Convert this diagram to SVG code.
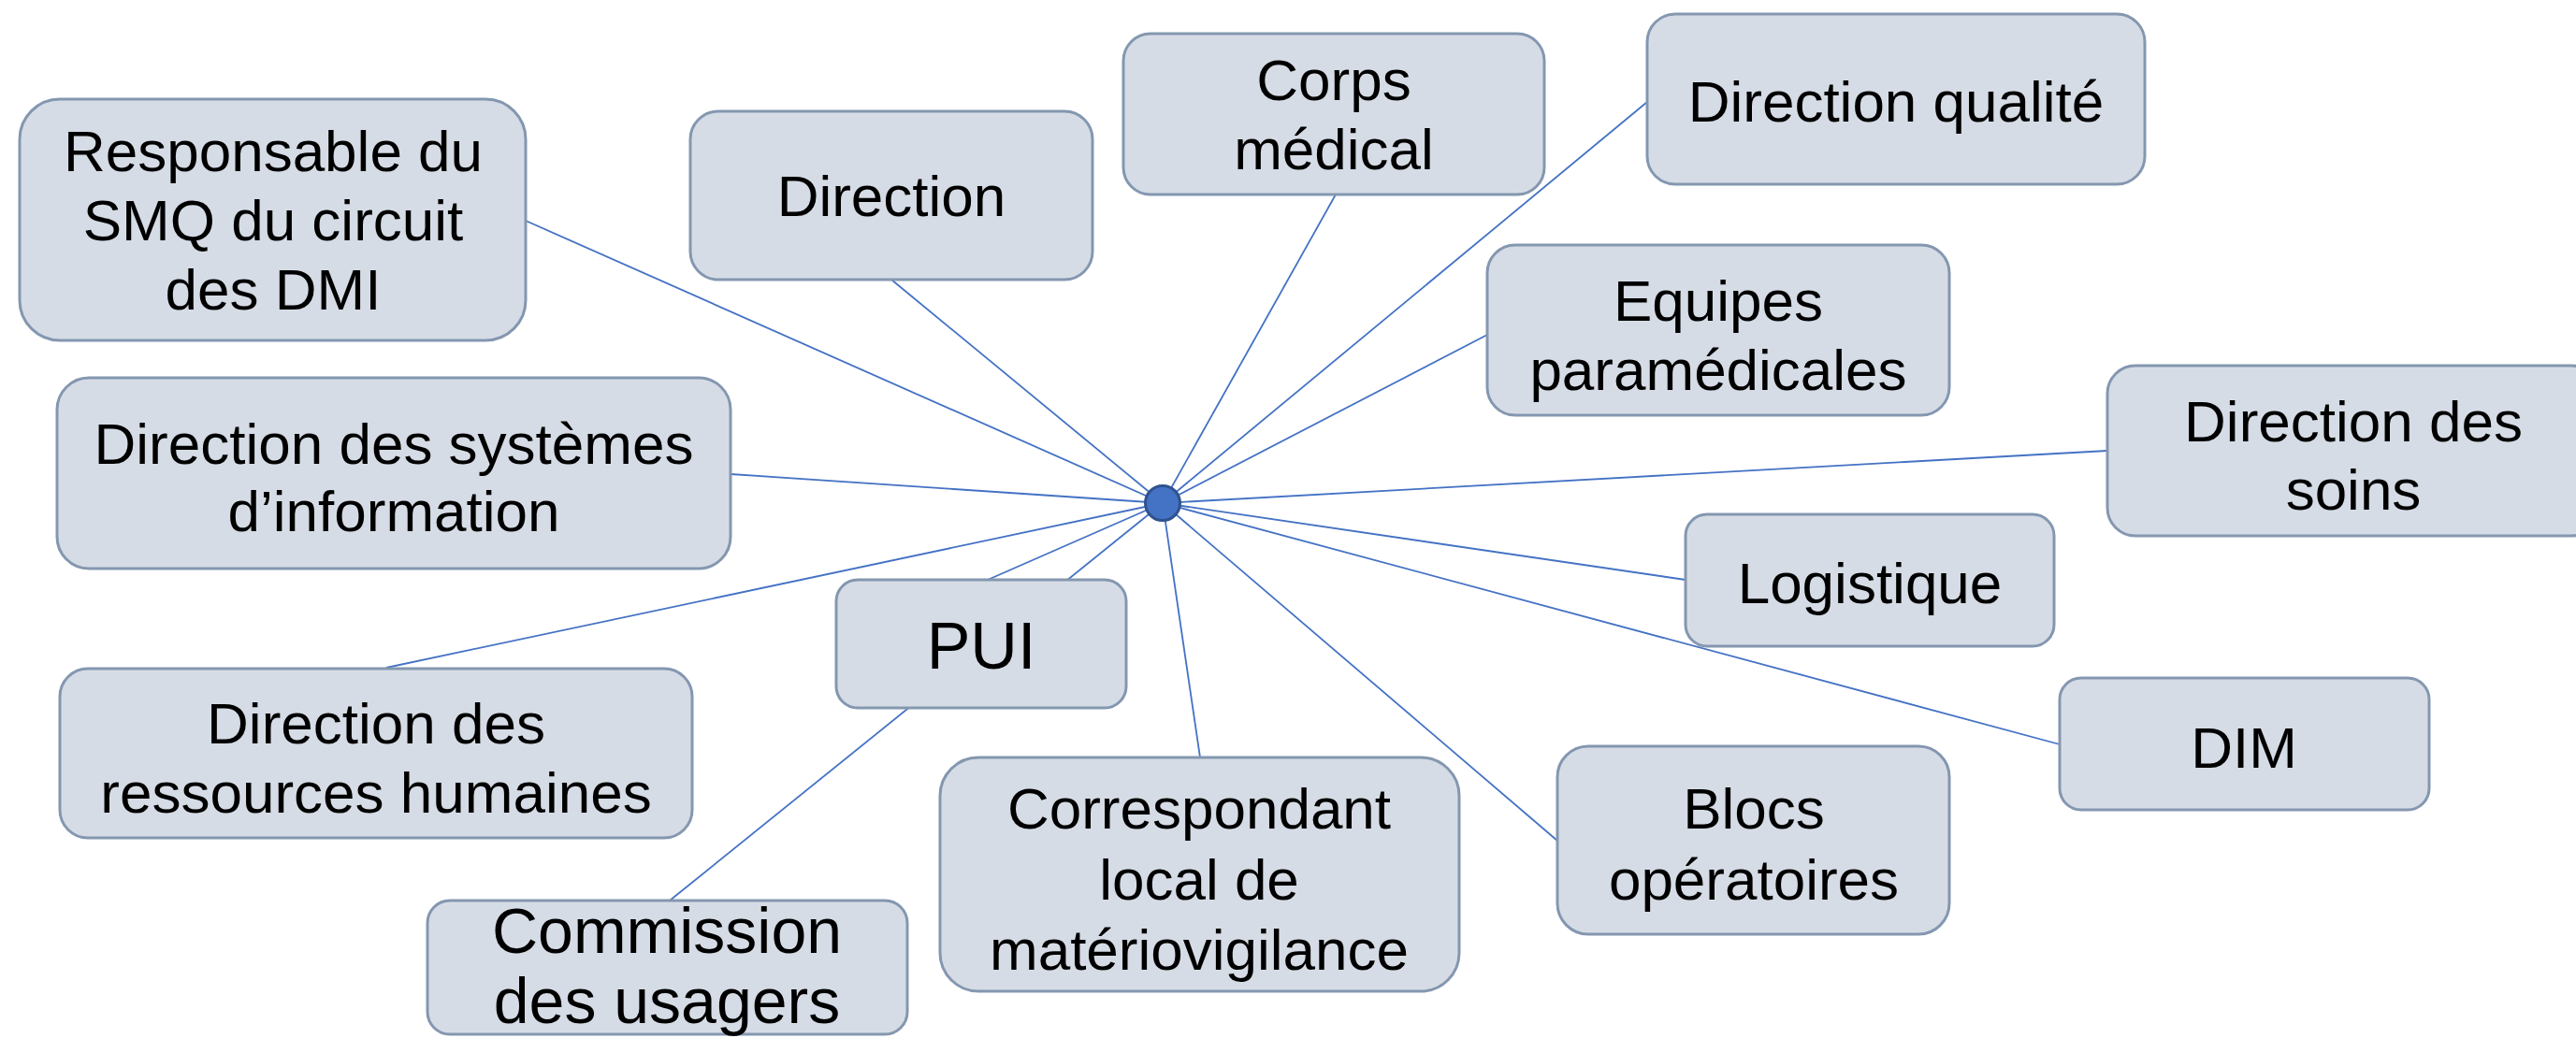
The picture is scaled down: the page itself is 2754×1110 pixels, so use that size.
<svg xmlns="http://www.w3.org/2000/svg" width="2754" height="1110" viewBox="0 0 2754 1110">
<style>
.box{fill:#D6DCE5;stroke:#8497B0;stroke-width:3}
.t{font-family:"Liberation Sans",Arial,sans-serif;font-size:62px;fill:#000;text-anchor:middle}
.tb{font-size:68px}
.c{stroke:#4472C4;stroke-width:1.8;fill:none}
</style>
<rect width="2754" height="1110" fill="#fff"/>
<g id="connectors">
<line class="c" x1="1243" y1="538" x2="562" y2="236"/>
<line class="c" x1="1243" y1="538" x2="953" y2="299"/>
<line class="c" x1="1243" y1="538" x2="781" y2="507"/>
<line class="c" x1="1243" y1="538" x2="413" y2="714"/>
<line class="c" x1="1243" y1="538" x2="1056" y2="620"/>
<line class="c" x1="1243" y1="538" x2="716" y2="963"/>
<line class="c" x1="1243" y1="538" x2="1283" y2="810"/>
<line class="c" x1="1243" y1="538" x2="1665" y2="899"/>
<line class="c" x1="1243" y1="538" x2="2202" y2="796"/>
<line class="c" x1="1243" y1="538" x2="1802" y2="620"/>
<line class="c" x1="1243" y1="538" x2="2253" y2="482"/>
<line class="c" x1="1243" y1="538" x2="1590" y2="358"/>
<line class="c" x1="1243" y1="538" x2="1761" y2="109"/>
<line class="c" x1="1243" y1="538" x2="1428" y2="208"/>
</g>
<g id="hub"><circle cx="1243" cy="538" r="18.5" fill="#4472C4" stroke="#2F528F" stroke-width="3"/></g>
<g id="responsable">
<rect class="box" x="21" y="106" width="541" height="258" rx="43"/>
<text class="t" x="292" y="183">Responsable du</text>
<text class="t" x="292" y="257">SMQ du circuit</text>
<text class="t" x="292" y="331">des DMI</text>
</g>
<g id="direction">
<rect class="box" x="738" y="119" width="430" height="180" rx="30"/>
<text class="t" x="953" y="231">Direction</text>
</g>
<g id="corps-medical">
<rect class="box" x="1201" y="36" width="450" height="172" rx="29"/>
<text class="t" x="1426" y="107">Corps</text>
<text class="t" x="1426" y="181">médical</text>
</g>
<g id="direction-qualite">
<rect class="box" x="1761" y="15" width="532" height="182" rx="30"/>
<text class="t" x="2027" y="130">Direction qualité</text>
</g>
<g id="equipes">
<rect class="box" x="1590" y="262" width="494" height="182" rx="30"/>
<text class="t" x="1837" y="343">Equipes</text>
<text class="t" x="1837" y="417">paramédicales</text>
</g>
<g id="direction-soins">
<rect class="box" x="2253" y="391" width="526" height="182" rx="30"/>
<text class="t" x="2516" y="472">Direction des</text>
<text class="t" x="2516" y="545">soins</text>
</g>
<g id="logistique">
<rect class="box" x="1802" y="550" width="394" height="141" rx="23"/>
<text class="t" x="1999" y="645">Logistique</text>
</g>
<g id="dim">
<rect class="box" x="2202" y="725" width="395" height="141" rx="23"/>
<text class="t" x="2399" y="821">DIM</text>
</g>
<g id="blocs">
<rect class="box" x="1665" y="798" width="419" height="201" rx="33"/>
<text class="t" x="1875" y="886">Blocs</text>
<text class="t" x="1875" y="962">opératoires</text>
</g>
<g id="correspondant">
<rect class="box" x="1005" y="810" width="555" height="250" rx="41"/>
<text class="t" x="1282" y="886">Correspondant</text>
<text class="t" x="1282" y="962">local de</text>
<text class="t" x="1282" y="1037">matériovigilance</text>
</g>
<g id="pui">
<rect class="box" x="894" y="620" width="310" height="137" rx="23"/>
<text class="t" x="1049" y="715" style="font-size:70px">PUI</text>
</g>
<g id="drh">
<rect class="box" x="64" y="715" width="676" height="181" rx="30"/>
<text class="t" x="402" y="795">Direction des</text>
<text class="t" x="402" y="869">ressources humaines</text>
</g>
<g id="commission">
<rect class="box" x="457" y="963" width="513" height="143" rx="24"/>
<text class="t tb" x="713" y="1019">Commission</text>
<text class="t tb" x="713" y="1094">des usagers</text>
</g>
<g id="dsi">
<rect class="box" x="61" y="404" width="720" height="204" rx="34"/>
<text class="t" x="421" y="496">Direction des systèmes</text>
<text class="t" x="421" y="568">d’information</text>
</g>
</svg>
